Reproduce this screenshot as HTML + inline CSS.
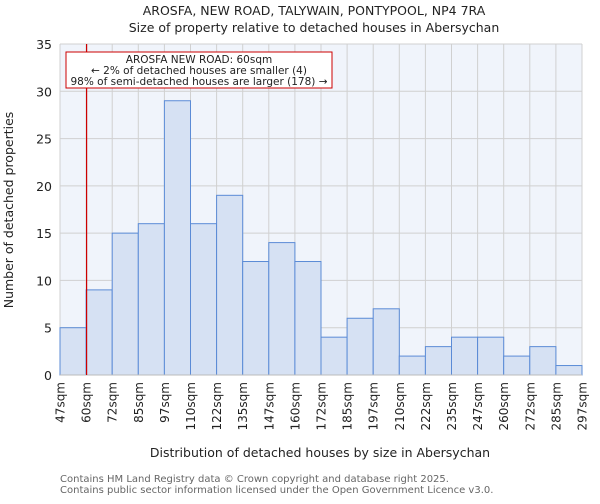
<!DOCTYPE html>
<html><head><meta charset="utf-8"><style>
body{margin:0;background:#fff;font-family:"DejaVu Sans","Liberation Sans",sans-serif}
</style></head><body>
<svg id="c" width="600" height="500" xmlns="http://www.w3.org/2000/svg" font-family="DejaVu Sans, Liberation Sans, sans-serif">
<text x="314" y="15" text-anchor="middle" font-size="12.5" fill="#222">AROSFA, NEW ROAD, TALYWAIN, PONTYPOOL, NP4 7RA</text>
<text x="314" y="32" text-anchor="middle" font-size="12.5" fill="#222">Size of property relative to detached houses in Abersychan</text>
<rect x="60" y="44" width="522" height="331" fill="#f0f4fb"/>
<g id="grid"></g><g id="bars"></g><g id="axes"></g>
<text x="320" y="457" text-anchor="middle" font-size="12.5" fill="#222">Distribution of detached houses by size in Abersychan</text>
<text transform="translate(13,210) rotate(-90)" text-anchor="middle" font-size="12.5" fill="#222">Number of detached properties</text>
<text x="60" y="482" font-size="10" fill="#666">Contains HM Land Registry data © Crown copyright and database right 2025.</text>
<text x="60" y="493" font-size="10" fill="#666">Contains public sector information licensed under the Open Government Licence v3.0.</text>
</svg>
<script>
const edges=["47sqm","60sqm","72sqm","85sqm","97sqm","110sqm","122sqm","135sqm","147sqm","160sqm","172sqm","185sqm","197sqm","210sqm","222sqm","235sqm","247sqm","260sqm","272sqm","285sqm","297sqm"];
const counts=[5,9,15,16,29,16,19,12,14,12,4,6,7,2,3,4,4,2,3,1];
const yTicks=[0,5,10,15,20,25,30,35];
const markerIndex=1;
const NS="http://www.w3.org/2000/svg";
const X0=60,X1=582,Y0=375,Y1=44,YMAX=35;
const bw=(X1-X0)/counts.length;
const xs=i=>X0+i*bw, ys=v=>Y0-(v/YMAX)*(Y0-Y1);
function mk(t,a,p){const e=document.createElementNS(NS,t);for(const k in a)e.setAttribute(k,a[k]);p.appendChild(e);return e;}
const grid=document.getElementById('grid'),bars=document.getElementById('bars'),axes=document.getElementById('axes');
yTicks.forEach(v=>{
 const l=mk('line',{x1:X0,x2:X1,y1:ys(v),y2:ys(v),stroke:'#d0d0d0'},grid);
 
 
 const t=mk('text',{x:X0-8,y:ys(v)+5,'text-anchor':'end','font-size':12.5,fill:'#222'},axes);
 t.textContent=v;
 
 
});
edges.forEach((e,i)=>{
 const l=mk('line',{x1:xs(i),x2:xs(i),y1:Y1,y2:Y0,stroke:'#d0d0d0'},grid);
 
 
 const t=mk('text',{transform:`translate(${xs(i)+4.5},382) rotate(-90)`,'text-anchor':'end','font-size':12,fill:'#222'},axes);
 t.textContent=e;
 
 
});
counts.forEach((c,i)=>{
 const r=mk('rect',{x:xs(i),y:ys(c),width:bw,height:Y0-ys(c),fill:'#d6e1f3',stroke:'#5b8bd6','stroke-width':1},bars);
 
 
});
const ax=mk('line',{x1:X0,x2:X1,y1:Y0,y2:Y0,stroke:'#bbb'},axes);


const m=mk('line',{x1:xs(markerIndex)+0.5,x2:xs(markerIndex)+0.5,y1:Y1,y2:Y0,stroke:'#cc0000','stroke-width':1.2},axes);


const box=mk('g',{},axes);


mk('rect',{x:66,y:52,width:266,height:36,fill:'#fff',stroke:'#cc0000','stroke-width':1},box);
[["AROSFA NEW ROAD: 60sqm",63],["← 2% of detached houses are smaller (4)",74],["98% of semi-detached houses are larger (178) →",85]].forEach(([s,y])=>{
 const t=mk('text',{x:199,y:y,'text-anchor':'middle','font-size':10.5,fill:'#222'},box);
 t.textContent=s;
 
 
});
</script>
</body></html>
